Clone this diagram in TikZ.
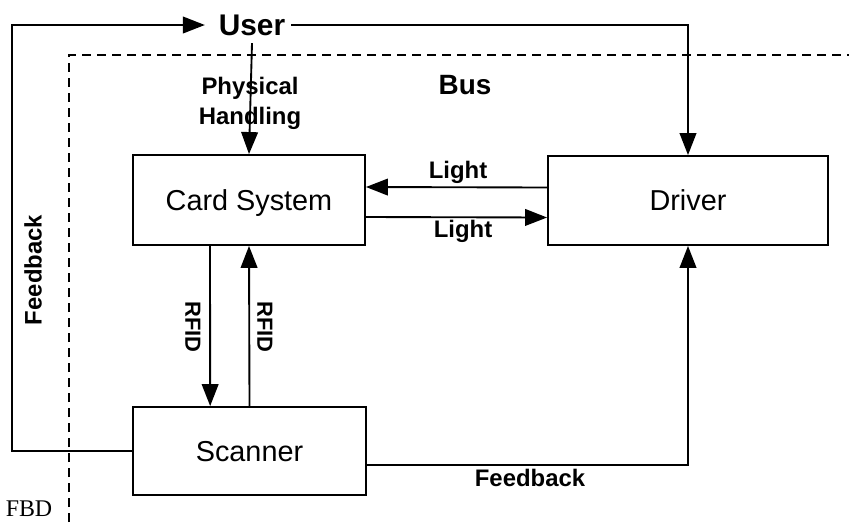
\documentclass[tikz,border=0pt]{standalone}
\usepackage{fontspec}
\setmainfont{Liberation Sans}
\newfontfamily\fbdfont{Liberation Serif}
\usetikzlibrary{arrows.meta}

\tikzset{
    block/.style={draw, inner sep=0pt, text height=17.6pt, text depth=0pt, font=\fontsize{24.6}{29}\selectfont},
    lbl/.style={font=\bfseries\fontsize{20.4}{25.5}\selectfont, inner sep=0pt},
}

\begin{document}
\begin{tikzpicture}[x=0.03cm, y=-0.03cm, line width=1.6pt,
    >={Triangle[length=0.66cm,width=0.5cm]}]

\useasboundingbox (0,0) rectangle (849,522);

\draw[dash pattern=on 0.27cm off 0.18cm] (69,522)--(69,55)--(849,55);

\node [font=\bfseries\fontsize{25.5}{30}\selectfont, inner xsep=0.15cm, inner ysep=0.2cm] (user) at (252,25) {User};
\node [block, minimum width=6.96cm, minimum height=2.7cm] (card) at (249,200) {Card System};
\node [block, minimum width=8.4cm, minimum height=2.67cm] (driver) at (688,200.5) {Driver};
\node [block, minimum width=6.99cm, minimum height=2.64cm] (scanner) at (249.5,451) {Scanner};
\coordinate (fbturn) at (12,25);

\draw[->, shorten >=0.24cm] (scanner.west) -| (fbturn) -- (user.west);
\draw[->] (user.east) -| (driver.north);
\draw[->] (user.south) -- (card.north);
\draw[->] ([yshift=0.39cm]driver.west) -- ([yshift=0.39cm]card.east);
\draw[->] ([yshift=-0.51cm]card.east) -- ([yshift=-0.51cm]driver.west);
\draw[->] ([xshift=-1.17cm]card.south) -- ([xshift=-1.18cm]scanner.north);
\draw[->] (scanner.north) -- (card.south);
\draw[->] ([yshift=-0.42cm]scanner.east) -| (driver.south);

\node [lbl, font=\bfseries\fontsize{23.8}{28}\selectfont] (bus) at (465,85) {Bus};
\node [lbl, align=center] (phys) at (250,103) {Physical\\Handling};
\node [lbl] (light1) at (458,172) {Light};
\node [lbl] (light2) at (463,231) {Light};
\node [lbl, rotate=-90, font=\bfseries\fontsize{18.7}{22}\selectfont] (rfid1) at (193,327) {RFID};
\node [lbl, rotate=-90, font=\bfseries\fontsize{18.7}{22}\selectfont] (rfid2) at (265,327) {RFID};
\node [lbl, rotate=90] (fb1) at (33,270) {Feedback};
\node [lbl] (fb2) at (530,478) {Feedback};
\node [font=\fbdfont\fontsize{20.4}{24}\selectfont, inner sep=0pt] (fbd) at (29,509) {FBD};

\end{tikzpicture}
\end{document}
